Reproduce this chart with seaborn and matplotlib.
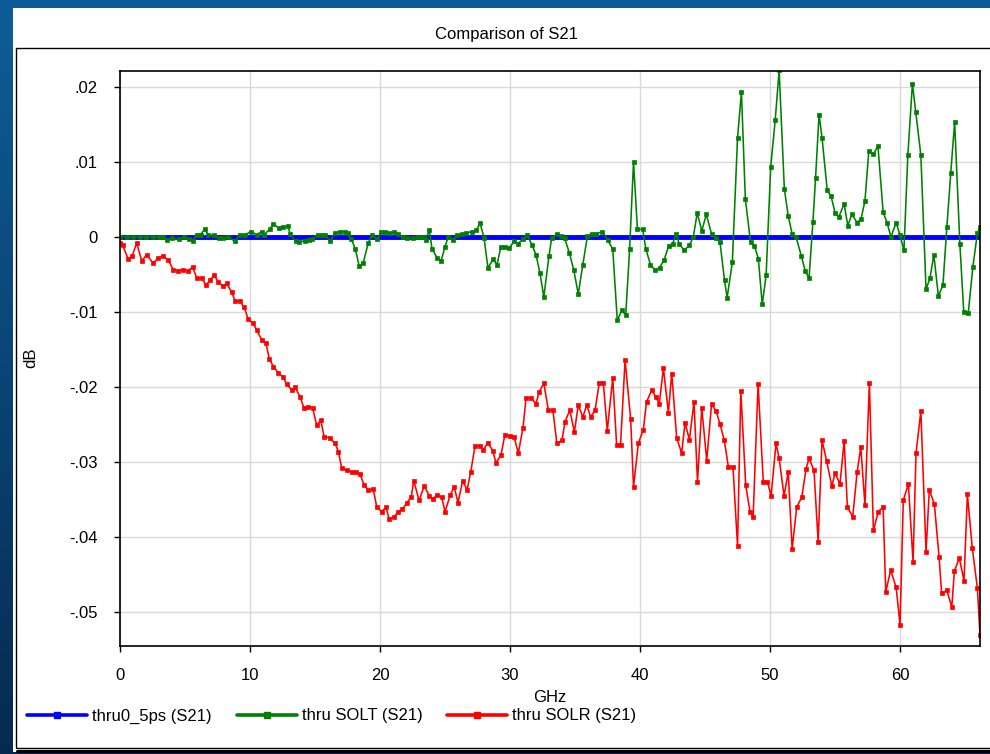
import numpy as np
import pandas as pd
import matplotlib
matplotlib.use("Agg")
import matplotlib.pyplot as plt
import seaborn as sns
from matplotlib.patches import Rectangle
from matplotlib.lines import Line2D
from matplotlib.ticker import FuncFormatter
from matplotlib.colors import LinearSegmentedColormap

# ---------------- data ----------------
TITLE = "Comparison of S21"
X_LABEL = "GHz"
Y_LABEL = "dB"
SERIES_NAMES = ["thru0_5ps (S21)", "thru SOLT (S21)", "thru SOLR (S21)"]
X_TICKS = [0, 10, 20, 30, 40, 50, 60]
Y_TICKS = [-0.05, -0.04, -0.03, -0.02, -0.01, 0.0, 0.01, 0.02]

BLUE_GHZ = [0.0, 66.5]
BLUE_DB = [0.0, 0.0]

GREEN_GHZ = [
    0.0, 0.5, 1.0, 1.5, 2.0, 2.5, 3.0, 3.3, 3.6, 4.0,
    4.5, 4.9, 5.3, 5.6, 5.9, 6.2, 6.5, 6.8, 7.2, 7.6,
    7.9, 8.3, 8.85, 9.2, 9.6, 10.1, 10.5, 10.9, 11.1, 11.5,
    11.8, 12.2, 12.5, 12.9, 13.1, 13.5, 13.8, 14.2, 14.5, 14.8,
    15.2, 15.5, 15.8, 16.15, 16.5, 16.9, 17.3, 17.5, 17.8, 18.1,
    18.4, 18.7, 19.1, 19.4, 19.8, 20.05, 20.4, 20.7, 21.1, 21.4,
    21.8, 22.1, 22.5, 22.9, 23.3, 23.5, 23.8, 24.0, 24.4, 24.7,
    25.0, 25.25, 25.6, 25.9, 26.3, 26.6, 27.05, 27.4, 27.7, 28.0,
    28.3, 28.7, 29.0, 29.3, 29.6, 29.95, 30.3, 30.6, 31.0, 31.3,
    31.7, 32.0, 32.3, 32.6, 33.0, 33.2, 33.6, 33.9, 34.2, 34.56,
    34.9, 35.25, 35.6, 35.95, 36.3, 36.6, 37.1, 37.5, 37.9, 38.25,
    38.6, 38.9, 39.2, 39.5, 39.8, 40.2, 40.45, 40.8, 41.15, 41.5,
    41.85, 42.2, 42.5, 42.8, 43.0, 43.4, 43.8, 44.1, 44.4, 44.75,
    45.1, 45.5, 45.85, 46.15, 46.5, 46.7, 47.1, 47.5, 47.8, 48.1,
    48.5, 48.8, 49.1, 49.4, 49.7, 50.05, 50.4, 50.7, 51.1, 51.4,
    51.7, 52.0, 52.4, 52.7, 53.0, 53.3, 53.5, 53.77, 54.0, 54.4,
    54.7, 55.0, 55.3, 55.7, 55.98, 56.3, 56.7, 57.0, 57.3, 57.6,
    57.95, 58.3, 58.7, 59.0, 59.3, 59.7, 60.0, 60.3, 60.6, 60.95,
    61.2, 61.6, 62.0, 62.3, 62.6, 62.95, 63.3, 63.6, 63.9, 64.2,
    64.6, 64.9, 65.25, 65.6, 65.95, 66.15,
]
GREEN_DB = [
    0.0, 0.0, 0.0, 0.0, 0.0, 0.0, 0.0, 0.0, -0.0004, -0.0002,
    -0.0003, 0.0, -0.0003, -0.0005, 0.0003, 0.0003, 0.0010, 0.0003, 0.0002, -0.0002,
    -0.0002, 0.0, -0.0006, 0.0003, 0.0003, 0.0007, 0.0003, 0.0007, 0.0003, 0.0010,
    0.0017, 0.0012, 0.0013, 0.0014, 0.0004, -0.0006, -0.0007, -0.0005, -0.0004, -0.0003,
    0.0003, 0.0002, 0.0003, -0.0006, 0.0005, 0.0007, 0.0007, 0.0005, -0.0003, -0.0016,
    -0.0039, -0.0035, -0.0008, 0.0003, -0.0003, 0.0006, 0.0006, 0.0005, 0.0006, 0.0004,
    0.0, -0.0002, -0.0002, 0.0, 0.0, -0.0004, 0.0009, -0.0016, -0.0028, -0.0032,
    -0.0013, 0.0, -0.0004, 0.0002, 0.0004, 0.0005, 0.0007, 0.0009, 0.0018, -0.0001,
    -0.0041, -0.0030, -0.0037, -0.0013, -0.0013, -0.0015, -0.0006, -0.0009, -0.0003, 0.0003,
    -0.0011, -0.0024, -0.0048, -0.0080, -0.0025, -0.0002, 0.0004, 0.0001, -0.0002, -0.0021,
    -0.0044, -0.0076, -0.0037, 0.0001, 0.0004, 0.0004, 0.0007, -0.0004, -0.0016, -0.0111,
    -0.0098, -0.0104, -0.0016, 0.0100, 0.0010, 0.0010, -0.0016, -0.0037, -0.0044, -0.0041,
    -0.0031, -0.0012, -0.0009, 0.0004, -0.0009, -0.0018, -0.0011, 0.0, 0.0032, 0.0008,
    0.0030, 0.0004, -0.0002, -0.0007, -0.0058, -0.0081, -0.0034, 0.0132, 0.0193, 0.0051,
    -0.0007, -0.0012, -0.0029, -0.0090, -0.0051, 0.0093, 0.0156, 0.0222, 0.0064, 0.0028,
    0.0004, 0.0, -0.0025, -0.0045, -0.0055, 0.0020, 0.0078, 0.0163, 0.0132, 0.0062,
    0.0054, 0.0032, 0.0027, 0.0044, 0.0015, 0.0030, 0.0019, 0.0024, 0.0048, 0.0115,
    0.0110, 0.0121, 0.0033, 0.0019, 0.0, 0.0019, 0.0002, -0.0018, 0.0109, 0.0204,
    0.0167, 0.0109, -0.0070, -0.0055, -0.0024, -0.0079, -0.0064, 0.0013, 0.0085, 0.0153,
    -0.0009, -0.0100, -0.0101, -0.0040, 0.0005, 0.0013,
]

RED_GHZ = [
    0.0, 0.2, 0.64, 0.95, 1.28, 1.67, 2.05, 2.56, 2.95, 3.33,
    3.72, 4.1, 4.48, 4.87, 5.25, 5.59, 5.9, 6.28, 6.62, 6.92,
    7.23, 7.56, 7.95, 8.2, 8.6, 8.85, 9.23, 9.56, 9.87, 10.25,
    10.5, 10.9, 11.23, 11.48, 11.8, 12.18, 12.5, 12.82, 13.2, 13.46,
    13.85, 14.15, 14.48, 14.82, 15.13, 15.44, 15.7, 16.15, 16.54, 16.8,
    17.05, 17.44, 17.82, 18.13, 18.46, 18.77, 19.1, 19.48, 19.75, 20.13,
    20.46, 20.7, 21.08, 21.4, 21.7, 22.05, 22.4, 22.6, 23.0, 23.4,
    23.8, 24.05, 24.4, 24.75, 25.0, 25.4, 25.7, 26.0, 26.36, 26.7,
    26.98, 27.3, 27.7, 27.95, 28.3, 28.67, 28.92, 29.3, 29.6, 30.0,
    30.3, 30.64, 31.0, 31.23, 31.6, 32.0, 32.25, 32.6, 32.95, 33.3,
    33.6, 34.0, 34.23, 34.6, 34.95, 35.25, 35.6, 35.9, 36.2, 36.54,
    36.87, 37.18, 37.48, 37.9, 38.2, 38.5, 38.85, 39.28, 39.5, 39.87,
    40.25, 40.5, 40.9, 41.2, 41.48, 41.8, 42.18, 42.44, 42.82, 43.2,
    43.46, 43.8, 44.15, 44.42, 44.75, 45.13, 45.5, 45.85, 46.15, 46.48,
    46.8, 47.15, 47.5, 47.75, 48.13, 48.46, 48.7, 49.08, 49.48, 49.8,
    50.08, 50.46, 50.7, 51.08, 51.4, 51.7, 52.05, 52.44, 52.77, 53.0,
    53.38, 53.7, 54.0, 54.36, 54.75, 55.0, 55.38, 55.7, 55.95, 56.36,
    56.7, 56.98, 57.3, 57.64, 57.95, 58.33, 58.7, 58.9, 59.28, 59.7,
    60.0, 60.25, 60.64, 61.0, 61.23, 61.6, 62.0, 62.25, 62.64, 63.0,
    63.2, 63.6, 63.98, 64.18, 64.56, 64.92, 65.18, 65.56, 65.95, 66.15,
]
RED_DB = [
    -0.0008, -0.0011, -0.0030, -0.0025, -0.0008, -0.0032, -0.0024, -0.0035, -0.0028, -0.0026,
    -0.0031, -0.0044, -0.0045, -0.0044, -0.0045, -0.0040, -0.0055, -0.0055, -0.0064, -0.0058,
    -0.0051, -0.0060, -0.0066, -0.0062, -0.0074, -0.0085, -0.0086, -0.0094, -0.0110, -0.0115,
    -0.0124, -0.0137, -0.0142, -0.0162, -0.0173, -0.0181, -0.0186, -0.0196, -0.0204, -0.0200,
    -0.0213, -0.0228, -0.0226, -0.0228, -0.0251, -0.0244, -0.0266, -0.0268, -0.0275, -0.0286,
    -0.0308, -0.0311, -0.0313, -0.0313, -0.0316, -0.0330, -0.0337, -0.0336, -0.0360, -0.0366,
    -0.0360, -0.0376, -0.0373, -0.0366, -0.0363, -0.0355, -0.0346, -0.0325, -0.0351, -0.0332,
    -0.0345, -0.0349, -0.0344, -0.0347, -0.0366, -0.0344, -0.0333, -0.0354, -0.0325, -0.0337,
    -0.0313, -0.0279, -0.0278, -0.0284, -0.0274, -0.0285, -0.0301, -0.0291, -0.0264, -0.0265,
    -0.0266, -0.0288, -0.0254, -0.0215, -0.0215, -0.0222, -0.0206, -0.0195, -0.0231, -0.0231,
    -0.0275, -0.0271, -0.0246, -0.0231, -0.0260, -0.0224, -0.0240, -0.0224, -0.0240, -0.0231,
    -0.0194, -0.0195, -0.0258, -0.0188, -0.0277, -0.0277, -0.0164, -0.0243, -0.0333, -0.0275,
    -0.0257, -0.0220, -0.0204, -0.0213, -0.0222, -0.0175, -0.0234, -0.0182, -0.0268, -0.0288,
    -0.0248, -0.0270, -0.0220, -0.0326, -0.0228, -0.0298, -0.0223, -0.0232, -0.0249, -0.0271,
    -0.0307, -0.0307, -0.0412, -0.0205, -0.0331, -0.0366, -0.0373, -0.0196, -0.0326, -0.0326,
    -0.0345, -0.0275, -0.0295, -0.0345, -0.0313, -0.0416, -0.0360, -0.0347, -0.0309, -0.0295,
    -0.0311, -0.0406, -0.0271, -0.0299, -0.0332, -0.0315, -0.0329, -0.0272, -0.0360, -0.0373,
    -0.0313, -0.0280, -0.0357, -0.0194, -0.0391, -0.0366, -0.0360, -0.0473, -0.0444, -0.0467,
    -0.0517, -0.0351, -0.0329, -0.0433, -0.0288, -0.0232, -0.0420, -0.0337, -0.0356, -0.0426,
    -0.0475, -0.0471, -0.0493, -0.0445, -0.0428, -0.0458, -0.0343, -0.0415, -0.0468, -0.0531,
]

COLORS = ["#0000ff", "#008000", "#ff0000"]

# ---------------- styling ----------------
sns.set_theme(style="white")
plt.rcParams["font.family"] = ["Liberation Sans", "DejaVu Sans"]
plt.rcParams["text.color"] = "black"
plt.rcParams["axes.labelcolor"] = "black"
plt.rcParams["xtick.color"] = "black"
plt.rcParams["ytick.color"] = "black"

W, H = 990, 754
fig = plt.figure(figsize=(W / 100, H / 100), dpi=100)
fig.patch.set_facecolor("#0b4a80")

# blue gradient backdrop
bg = fig.add_axes([0, 0, 1, 1], zorder=-10)
cmap = LinearSegmentedColormap.from_list("bgblue", ["#0f5d98", "#0a4476", "#072a50"])
bg.imshow(np.linspace(0, 1, 256)[:, None], aspect="auto", cmap=cmap, extent=[0, 1, 0, 1])
bg.set_axis_off()

# white panel + frame
fig.add_artist(Rectangle((13 / W, 1 - 752 / H), (W - 13) / W, (752 - 8) / H,
                         transform=fig.transFigure, fc="white", ec="none", zorder=-5))
fig.add_artist(Rectangle((15.5 / W, 1 - 747.5 / H), (W + 10 - 15.5) / W, (747.5 - 47.5) / H,
                         transform=fig.transFigure, fill=False, ec="black", lw=1.0, zorder=-4))
fig.add_artist(Line2D([17 / W, 1.0], [1 - 750.5 / H] * 2, transform=fig.transFigure,
                      color="black", lw=2.2, zorder=-4))

ax = fig.add_axes([120 / W, 1 - 646 / H, 860 / W, 575 / H])
ax.set_facecolor("white")

sns.lineplot(x=BLUE_GHZ, y=BLUE_DB, ax=ax, color=COLORS[0], linewidth=3.5,
             estimator=None, sort=False, legend=False)
sns.lineplot(x=GREEN_GHZ, y=GREEN_DB, ax=ax, color=COLORS[1], linewidth=1.15,
             marker="s", markersize=3.4, markeredgewidth=0.5, markeredgecolor=COLORS[1],
             estimator=None, sort=False, legend=False)
sns.lineplot(x=RED_GHZ, y=RED_DB, ax=ax, color=COLORS[2], linewidth=1.15,
             marker="s", markersize=3.4, markeredgewidth=0.5, markeredgecolor=COLORS[2],
             estimator=None, sort=False, legend=False)

ax.set_xlim(0, 66.15)
ax.set_ylim(-0.0545, 0.0221)
ax.set_xticks(X_TICKS)
ax.set_yticks(Y_TICKS)


def fmt(v, pos):
    if abs(v) < 1e-12:
        return "0"
    s = f"{v:.2f}"
    return s.replace("0.", ".", 1)


ax.yaxis.set_major_formatter(FuncFormatter(fmt))
ax.grid(True, color="#d9d9d9", linewidth=1.0)
ax.set_axisbelow(True)
for sp in ax.spines.values():
    sp.set_visible(True)
    sp.set_color("black")
    sp.set_linewidth(1.2)
ax.tick_params(axis="both", direction="out", length=4, width=1, colors="black",
               labelsize=12, pad=12, bottom=True, left=True)
ax.set_xlabel("")
ax.set_ylabel("")

fig.text(507 / W, 1 - 35 / H, TITLE, ha="center", va="center", fontsize=12)
fig.text(550 / W, 1 - 697 / H, X_LABEL, ha="center", va="center", fontsize=12)
fig.text(31 / W, 1 - 358 / H, Y_LABEL, ha="center", va="center", fontsize=12, rotation=90)

handles = [Line2D([], [], color=c, lw=2.6, marker="s", ms=5, mec=c) for c in COLORS]
fig.legend(handles, SERIES_NAMES, loc="center left", bbox_to_anchor=(27 / W, 1 - 716 / H),
           ncol=3, frameon=False, fontsize=12, handlelength=3.6, handletextpad=0.3,
           columnspacing=1.5, borderaxespad=0, borderpad=0)

fig.savefig("out.png", dpi=100, facecolor=fig.get_facecolor())
